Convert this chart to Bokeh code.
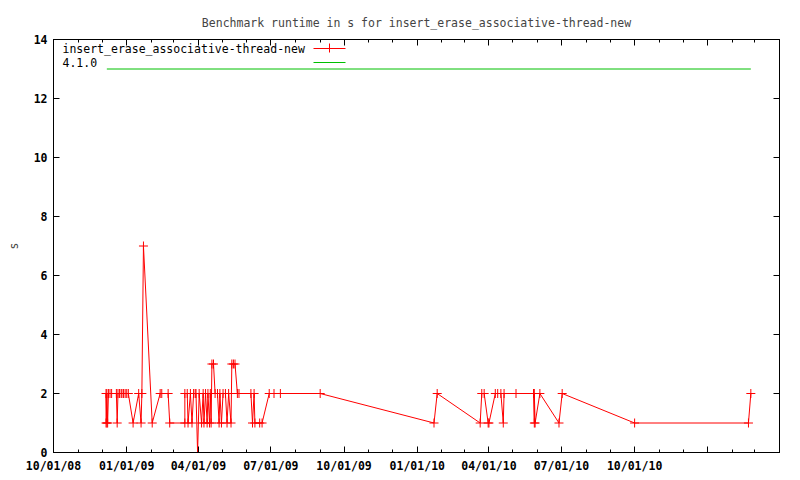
import pandas as pd
from bokeh.plotting import figure
from bokeh.models import (ColumnDataSource, FixedTicker, LinearAxis, Range1d,
                          Label, Arrow)
from bokeh.embed import file_html
from bokeh.resources import INLINE

title_text = "Benchmark runtime in s for insert_erase_associative-thread-new"
series_name = "insert_erase_associative-thread-new"
ref_name = "4.1.0"
y_label = "s"

bench_dates = [
    "2008-12-06", "2008-12-06", "2008-12-07", "2008-12-07", "2008-12-08",
    "2008-12-09", "2008-12-11", "2008-12-13", "2008-12-19", "2008-12-20",
    "2008-12-21", "2008-12-23", "2008-12-25", "2008-12-26", "2008-12-28",
    "2008-12-30", "2009-01-01", "2009-01-03", "2009-01-09", "2009-01-16",
    "2009-01-19", "2009-01-20", "2009-01-22", "2009-02-02", "2009-02-12",
    "2009-02-14", "2009-02-22", "2009-02-24", "2009-03-15", "2009-03-15",
    "2009-03-18", "2009-03-19", "2009-03-22", "2009-03-24", "2009-03-26",
    "2009-03-28", "2009-03-29", "2009-03-31", "2009-04-02", "2009-04-05",
    "2009-04-07", "2009-04-08", "2009-04-10", "2009-04-12", "2009-04-13",
    "2009-04-15", "2009-04-16", "2009-04-17", "2009-04-18", "2009-04-20",
    "2009-04-22", "2009-04-25", "2009-04-27", "2009-04-28", "2009-04-30",
    "2009-05-02", "2009-05-05", "2009-05-07", "2009-05-09", "2009-05-12",
    "2009-05-13", "2009-05-15", "2009-05-17", "2009-05-20", "2009-05-22",
    "2009-06-06", "2009-06-08", "2009-06-10", "2009-06-11", "2009-06-17",
    "2009-06-20", "2009-06-29", "2009-07-05", "2009-07-13", "2009-09-01",
    "2010-01-22", "2010-01-26", "2010-03-21", "2010-03-23", "2010-03-26",
    "2010-03-31", "2010-04-01", "2010-04-09", "2010-04-12", "2010-04-16",
    "2010-04-19", "2010-04-20", "2010-05-05", "2010-05-27", "2010-05-28",
    "2010-05-28", "2010-05-29", "2010-06-04", "2010-06-28", "2010-07-02",
    "2010-10-01", "2011-02-21", "2011-02-24",
]
bench_values = [
    1, 2, 1, 2, 1,
    2, 2, 2, 2, 1,
    2, 2, 2, 2, 2,
    2, 2, 2, 1, 2,
    1, 2, 7, 1, 2,
    2, 2, 1, 1, 2,
    2, 1, 2, 1, 2,
    2, 2, 0, 2, 1,
    2, 1, 2, 1, 2,
    1, 2, 1, 3, 3,
    2, 2, 1, 2, 1,
    2, 2, 1, 2, 1,
    3, 3, 3, 2, 2,
    2, 1, 2, 1, 1,
    1, 2, 2, 2, 2,
    1, 2, 1, 2, 2,
    1, 1, 2, 2, 2,
    1, 2, 2, 2, 1,
    2, 1, 2, 1, 2,
    1, 1, 2,
]

ref_dates = ["2008-12-07", "2011-02-24"]
ref_values = [13, 13]

x_tick_dates = ["2008-10-01", "2009-01-01", "2009-04-01", "2009-07-01",
                "2009-10-01", "2010-01-01", "2010-04-01", "2010-07-01",
                "2010-10-01", "2011-01-01"]
x_tick_labels = ["10/01/08", "01/01/09", "04/01/09", "07/01/09",
                 "10/01/09", "01/01/10", "04/01/10", "07/01/10",
                 "10/01/10", ""]
x_start, x_end = "2008-10-01", "2011-04-01"
y_ticks = [0, 2, 4, 6, 8, 10, 12, 14]


def ms(d):
    return int(pd.Timestamp(d).value // 10**6)


RED = "#ff0000"
GREEN = "#00c000"
FONT = "DejaVu Sans Mono"

bench_src = ColumnDataSource(dict(x=[ms(d) for d in bench_dates], y=bench_values))
ref_src = ColumnDataSource(dict(x=[ms(d) for d in ref_dates], y=ref_values))

p = figure(width=800, height=480, output_backend="svg", toolbar_location=None,
           x_range=Range1d(ms(x_start), ms(x_end)), y_range=Range1d(0, 14),
           min_border_left=53, min_border_right=21, min_border_top=39,
           min_border_bottom=28, background_fill_color="white",
           border_fill_color="white")

p.title.text = title_text
p.title.align = "center"
p.title.text_font = FONT
p.title.text_font_size = "11.5px"
p.title.text_font_style = "normal"
p.title.standoff = 20

p.xgrid.visible = False
p.ygrid.visible = False
p.outline_line_color = "black"
p.outline_line_width = 1
p.outline_line_alpha = 1

x_major = [ms(d) for d in x_tick_dates]
x_minor = [ms(d) for d in pd.date_range(x_start, x_end, freq="MS")]
x_ticker = FixedTicker(ticks=x_major, minor_ticks=x_minor)
y_ticker = FixedTicker(ticks=y_ticks, minor_ticks=[])
x_overrides = {ms(d): lab for d, lab in zip(x_tick_dates, x_tick_labels)}


def style_axis(ax, show_labels):
    ax.axis_line_color = "black"
    ax.major_tick_in = 6
    ax.major_tick_out = 0
    ax.minor_tick_in = 3
    ax.minor_tick_out = 0
    ax.major_tick_line_color = "black"
    ax.minor_tick_line_color = "black"
    ax.major_label_text_font = FONT
    ax.major_label_text_font_style = "bold"
    ax.major_label_text_color = "black"
    if show_labels:
        ax.major_label_text_font_size = "11.5px"
    else:
        ax.major_label_text_font_size = "1px"
        ax.major_label_standoff = 0


xa = p.xaxis[0]
xa.ticker = x_ticker
xa.major_label_overrides = x_overrides
style_axis(xa, True)
xa.major_label_standoff = 6

ya = p.yaxis[0]
ya.ticker = y_ticker
style_axis(ya, True)
ya.major_label_standoff = 6
ya.axis_label = y_label
ya.axis_label_text_font = FONT
ya.axis_label_text_font_size = "11.5px"
ya.axis_label_text_font_style = "normal"
ya.axis_label_standoff = 10

top_ax = LinearAxis(ticker=x_ticker,
                    major_label_overrides={k: "" for k in x_major})
style_axis(top_ax, False)
p.add_layout(top_ax, "above")

right_ax = LinearAxis(ticker=y_ticker,
                      major_label_overrides={t: "" for t in y_ticks})
style_axis(right_ax, False)
p.add_layout(right_ax, "right")

# data
p.line("x", "y", source=bench_src, line_color=RED, line_width=1)
p.scatter("x", "y", source=bench_src, marker="cross", size=9,
          line_color=RED, line_width=1)
p.line("x", "y", source=ref_src, line_color=GREEN, line_width=1)

# gnuplot-style key (text left, sample right)
row1, row2 = 404, 390
p.add_layout(Label(x=9, y=row1, x_units="screen", y_units="screen",
                   text=series_name, text_font=FONT, text_font_size="11.5px",
                   text_baseline="middle", text_align="left", text_color="black"))
p.add_layout(Label(x=9, y=row2, x_units="screen", y_units="screen",
                   text=ref_name, text_font=FONT, text_font_size="11.5px",
                   text_baseline="middle", text_align="left", text_color="black"))
p.add_layout(Arrow(end=None, x_start=260, y_start=row1, x_end=292, y_end=row1,
                   start_units="screen", end_units="screen",
                   line_color=RED, line_width=1))
p.add_layout(Arrow(end=None, x_start=276, y_start=row1 - 4, x_end=276, y_end=row1 + 5,
                   start_units="screen", end_units="screen",
                   line_color=RED, line_width=1))
p.add_layout(Arrow(end=None, x_start=260, y_start=row2, x_end=292, y_end=row2,
                   start_units="screen", end_units="screen",
                   line_color=GREEN, line_width=1))

open("out.html", "w").write(file_html(p, INLINE))
